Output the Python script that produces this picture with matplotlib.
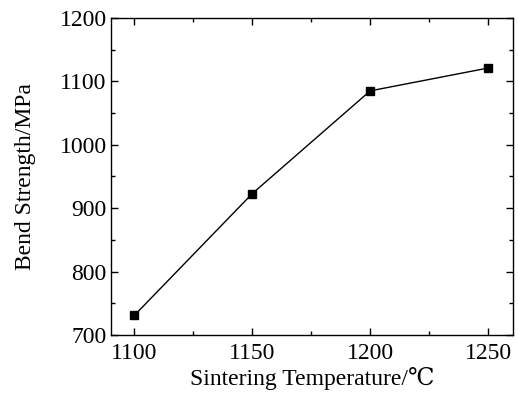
import matplotlib
matplotlib.use('Agg')
import matplotlib.pyplot as plt
from matplotlib.ticker import MultipleLocator

# data
temperature = [1100, 1150, 1200, 1250]
strength = [731, 923, 1085, 1121]

plt.rcParams['font.family'] = ['Liberation Serif', 'STIXGeneral', 'DejaVu Serif']

fig = plt.figure(figsize=(5.18, 4.08), dpi=100)
ax = fig.add_axes([0.214, 0.179, 0.776, 0.777])

ax.plot(temperature, strength, color='black', linewidth=1.0,
        marker='s', markersize=5.5)

ax.set_xlim(1090, 1260.5)
ax.set_ylim(700, 1200)
ax.xaxis.set_major_locator(MultipleLocator(50))
ax.xaxis.set_minor_locator(MultipleLocator(25))
ax.yaxis.set_major_locator(MultipleLocator(100))
ax.yaxis.set_minor_locator(MultipleLocator(50))
ax.tick_params(which='both', direction='in', top=True, right=True,
               labelsize=17, width=1.0)
ax.tick_params(which='major', length=5)
ax.tick_params(axis='x', which='major', pad=6)
ax.tick_params(axis='y', which='major', pad=3)
ax.tick_params(which='minor', length=3)
for s in ax.spines.values():
    s.set_linewidth(1.0)

ax.set_xlabel('Sintering Temperature/℃', fontsize=17, labelpad=2)
ax.set_ylabel('Bend Strength/MPa', fontsize=17, labelpad=17)

fig.savefig('out.png', dpi=100)
